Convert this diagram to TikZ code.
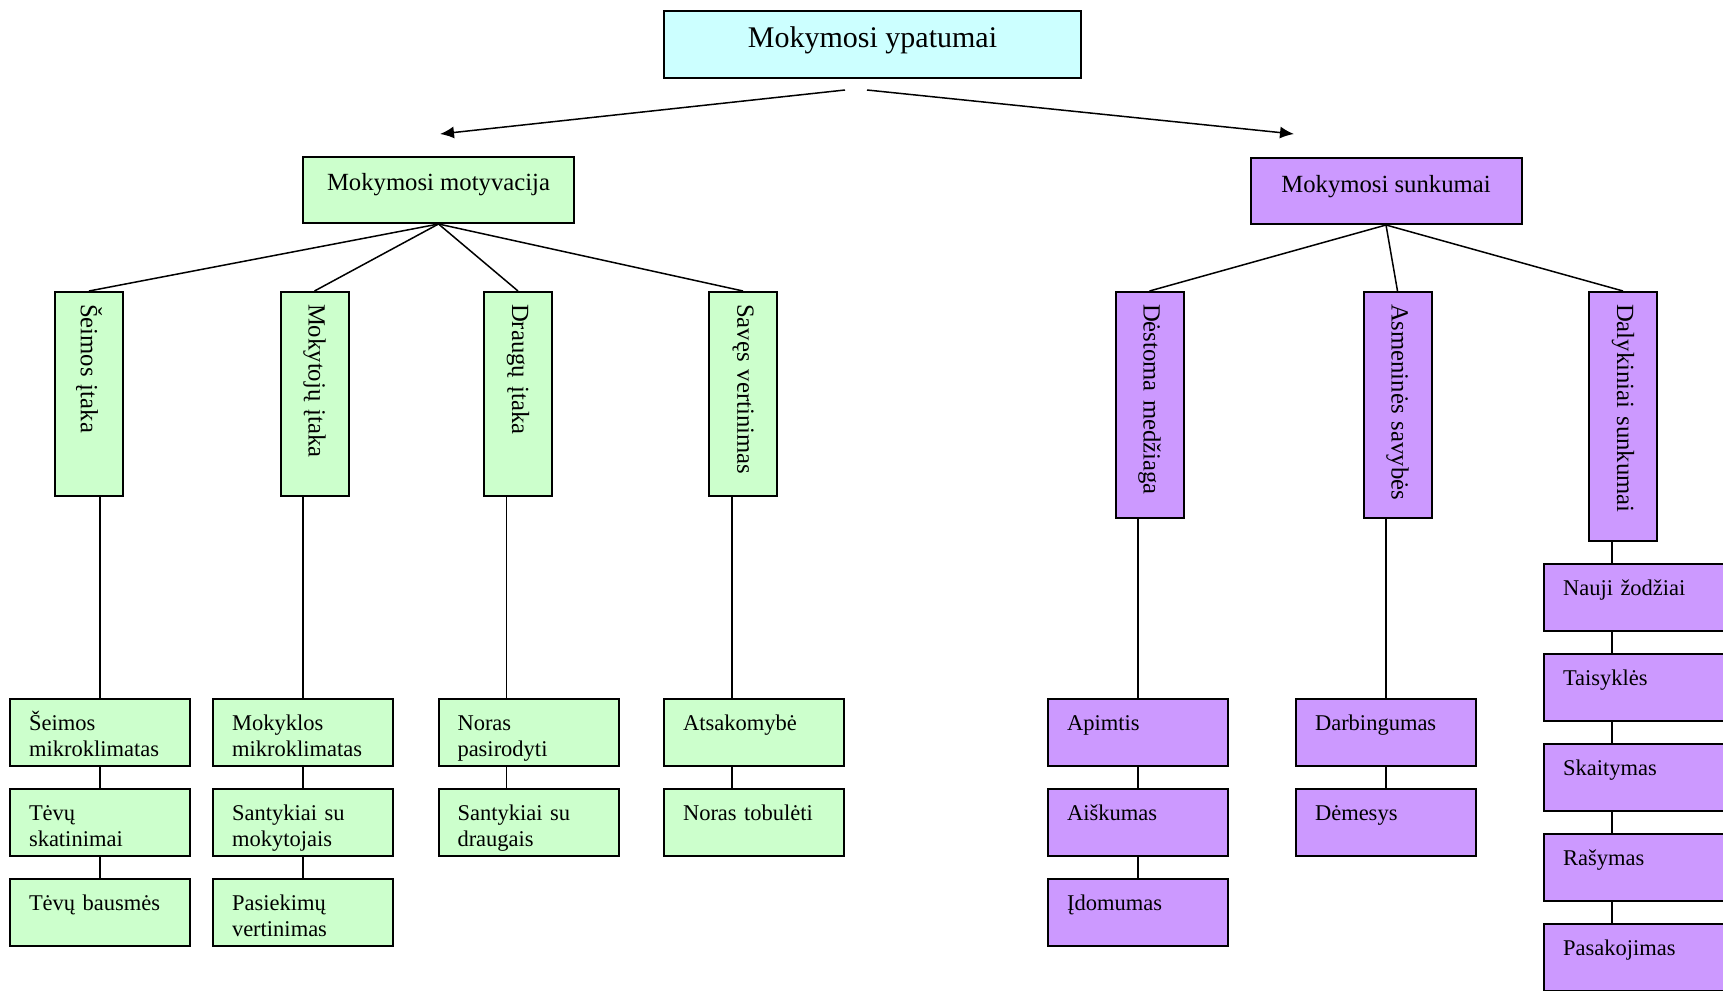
\documentclass[tikz,border=0pt]{standalone}
\usepackage{fontspec}
\setmainfont{Liberation Serif}
\usetikzlibrary{positioning,arrows.meta}

\definecolor{mintgreen}{HTML}{CCFFCC}
\definecolor{palecyan}{HTML}{CCFFFF}
\definecolor{lilac}{HTML}{CC99FF}

\begin{document}
\begin{tikzpicture}[x=0.5pt,y=-0.5pt,node distance=10.5pt,
    topbox/.style={rectangle, draw, line width=1pt, fill=palecyan, minimum width=208.5pt, inner sep=0pt, text height=18.5pt, text depth=15pt, font=\fontsize{15}{18}\selectfont},
    midbox/.style={rectangle, draw, line width=1pt, minimum width=135.5pt, inner sep=0pt, text height=17pt, text depth=16pt, font=\fontsize{12.35}{14}\selectfont},
    sidebox/.style={rectangle, draw, line width=1pt, rotate=-90, text width=#1, align=left, inner xsep=6pt, inner ysep=0pt, minimum height=34pt, font=\fontsize{12.35}{14}\selectfont},
    leafbox/.style={rectangle, draw, line width=1pt, text width=71pt, align=left, inner xsep=9.5pt, inner ysep=0pt, text height=15.5pt, text depth=18pt, font=\fontsize{11.25}{13}\selectfont},
    link/.style={line width=0.75pt},
    arrowline/.style={line width=0.75pt, -{Latex[length=7pt,width=6pt]}}]

    \useasboundingbox (0,0) rectangle (1723,990);

    % top and second level
    \node[topbox] (ypatumai) at (872.5,44.5) {Mokymosi ypatumai};
    \node[midbox, fill=mintgreen] (motyvacija) at (438.5,190) {Mokymosi motyvacija};
    \node[midbox, fill=lilac] (sunkumai) at (1386,191) {Mokymosi sunkumai};

    \coordinate (tipMot) at (440,134);
    \coordinate (tipSun) at (1294,134);
    \draw[arrowline] ([xshift=-13.75pt,yshift=-5.5pt]ypatumai.south) -- (tipMot);
    \draw[arrowline] ([xshift=-2.75pt,yshift=-5.5pt]ypatumai.south) -- (tipSun);

    % vertical boxes
    \node[sidebox=90pt, fill=mintgreen] (seimos) at (89,394) {Šeimos įtaka};
    \node[sidebox=90pt, fill=mintgreen] (mokytoju) at (314.5,394) {Mokytojų įtaka};
    \node[sidebox=90pt, fill=mintgreen] (draugu) at (518,394) {Draugų įtaka};
    \node[sidebox=90pt, fill=mintgreen] (saves) at (743,394) {Savęs vertinimas};
    \node[sidebox=101pt, fill=lilac] (destoma) at (1149.5,405) {Dėstoma medžiaga};
    \node[sidebox=101pt, fill=lilac] (asmenines) at (1397.5,405) {Asmeninės savybės};
    \node[sidebox=112.5pt, fill=lilac] (dalykiniai) at (1623,416.5) {Dalykiniai sunkumai};

    \draw[link] (motyvacija.south) -- (seimos.west);
    \draw[link] (motyvacija.south) -- (mokytoju.west);
    \draw[link] (motyvacija.south) -- (draugu.west);
    \draw[link] (motyvacija.south) -- (saves.west);
    \draw[link] (sunkumai.south) -- (destoma.west);
    \draw[link] (sunkumai.south) -- (asmenines.west);
    \draw[link] (sunkumai.south) -- (dalykiniai.west);

    % leaves, green side
    \node[leafbox, fill=mintgreen] (seimos1) at (100,732.5) {Šeimos\\mikroklimatas};
    \node[leafbox, fill=mintgreen, below=of seimos1] (seimos2) {Tėvų\\skatinimai};
    \node[leafbox, fill=mintgreen, below=of seimos2] (seimos3) {Tėvų bausmės};

    \node[leafbox, fill=mintgreen] (mokyklos1) at (303,732.5) {Mokyklos\\mikroklimatas};
    \node[leafbox, fill=mintgreen, below=of mokyklos1] (mokyklos2) {Santykiai su\\mokytojais};
    \node[leafbox, fill=mintgreen, below=of mokyklos2] (mokyklos3) {Pasiekimų\\vertinimas};

    \node[leafbox, fill=mintgreen] (noras1) at (528.5,732.5) {Noras\\pasirodyti};
    \node[leafbox, fill=mintgreen, below=of noras1] (noras2) {Santykiai su\\draugais};

    \node[leafbox, fill=mintgreen] (atsak1) at (754,732.5) {Atsakomybė};
    \node[leafbox, fill=mintgreen, below=of atsak1] (atsak2) {Noras tobulėti};

    % leaves, purple side
    \node[leafbox, fill=lilac] (apimtis) at (1138,732.5) {Apimtis};
    \node[leafbox, fill=lilac, below=of apimtis] (aiskumas) {Aiškumas};
    \node[leafbox, fill=lilac, below=of aiskumas] (idomumas) {Įdomumas};

    \node[leafbox, fill=lilac] (darbingumas) at (1386,732.5) {Darbingumas};
    \node[leafbox, fill=lilac, below=of darbingumas] (demesys) {Dėmesys};

    \node[leafbox, fill=lilac] (nauji) at (1634,597.5) {Nauji žodžiai};
    \node[leafbox, fill=lilac, below=of nauji] (taisykles) {Taisyklės};
    \node[leafbox, fill=lilac, below=of taisykles] (skaitymas) {Skaitymas};
    \node[leafbox, fill=lilac, below=of skaitymas] (rasymas) {Rašymas};
    \node[leafbox, fill=lilac, below=of rasymas] (pasakojimas) {Pasakojimas};

    % column links
    \draw[link] (seimos1.north) -- (seimos1.north |- seimos.east);
    \draw[link] (seimos1.south) -- (seimos2.north);
    \draw[link] (seimos2.south) -- (seimos3.north);

    \draw[link] (mokyklos1.north) -- (mokyklos1.north |- mokytoju.east);
    \draw[link] (mokyklos1.south) -- (mokyklos2.north);
    \draw[link] (mokyklos2.south) -- (mokyklos3.north);

    \draw[link] ([xshift=-11pt]noras1.north) -- ([xshift=-11pt]noras1.north |- draugu.east);
    \draw[link] ([xshift=-11pt]noras1.south) -- ([xshift=-11pt]noras2.north);

    \draw[link] ([xshift=-11pt]atsak1.north) -- ([xshift=-11pt]atsak1.north |- saves.east);
    \draw[link] ([xshift=-11pt]atsak1.south) -- ([xshift=-11pt]atsak2.north);

    \draw[link] (apimtis.north) -- (apimtis.north |- destoma.east);
    \draw[link] (apimtis.south) -- (aiskumas.north);
    \draw[link] (aiskumas.south) -- (idomumas.north);

    \draw[link] (darbingumas.north) -- (darbingumas.north |- asmenines.east);
    \draw[link] (darbingumas.south) -- (demesys.north);

    \draw[link] ([xshift=-11pt]nauji.north) -- ([xshift=-11pt]nauji.north |- dalykiniai.east);
    \draw[link] ([xshift=-11pt]nauji.south) -- ([xshift=-11pt]taisykles.north);
    \draw[link] ([xshift=-11pt]taisykles.south) -- ([xshift=-11pt]skaitymas.north);
    \draw[link] ([xshift=-11pt]skaitymas.south) -- ([xshift=-11pt]rasymas.north);
    \draw[link] ([xshift=-11pt]rasymas.south) -- ([xshift=-11pt]pasakojimas.north);

\end{tikzpicture}
\end{document}
